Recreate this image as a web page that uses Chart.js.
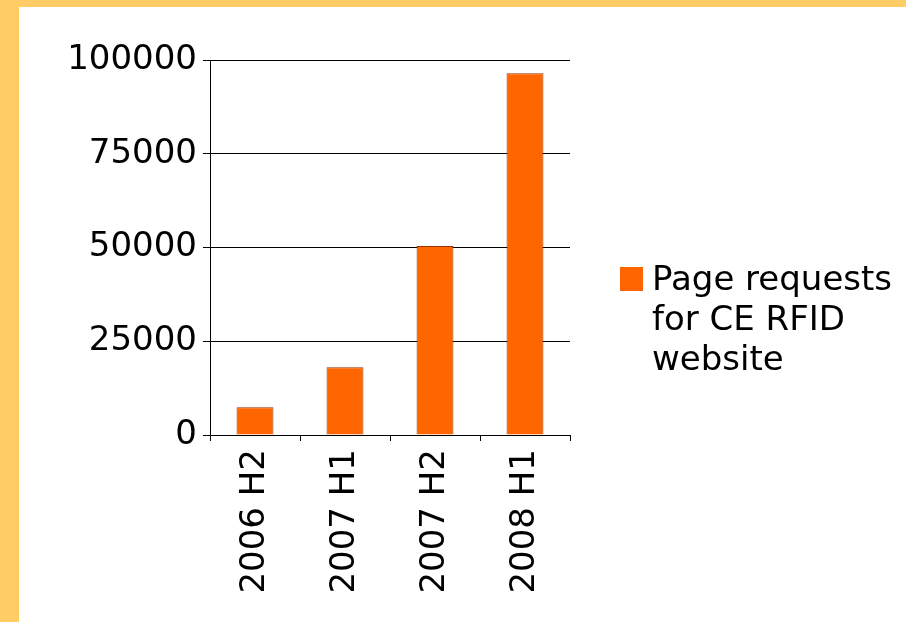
<!DOCTYPE html>
<html>
<head>
<meta charset="utf-8">
<script src="https://cdn.jsdelivr.net/npm/chart.js@4"></script>
<style>
  html, body { margin: 0; padding: 0; }
  body { width: 906px; height: 622px; background: #FFCC66; position: relative; overflow: hidden; font-family: "DejaVu Sans", Verdana, sans-serif; }
  #panel { position: absolute; left: 19px; top: 7px; width: 887px; height: 615px; background: #fff; }
  #grafico { position: absolute; left: 0; top: 0; }
  #legenda { position: absolute; left: 601px; top: 260px; font-size: 34px; line-height: 40px; color: #000; }
  #legenda .caixa { position: absolute; left: 0; top: 0; width: 23px; height: 24px; background: #FF6600; }
  #legenda .texto { position: absolute; left: 32px; top: -9px; white-space: nowrap; }
</style>
</head>
<body>
<div id="panel">
  <canvas id="grafico" width="887" height="615"></canvas>
  <div id="legenda"><div class="caixa"></div><div class="texto" id="legendaTexto"></div></div>
</div>
<script>
const periodos = ['2006 H2', '2007 H1', '2007 H2', '2008 H1'];
const requisicoes = [7400, 18100, 50400, 96500];
const nomeSerie = ['Page requests', 'for CE RFID', 'website'];
const escalaY = { min: 0, max: 100000, passo: 25000 };

document.getElementById('legendaTexto').innerHTML = nomeSerie.join('<br>');

const fonte = { family: '"DejaVu Sans", Verdana, sans-serif', size: 34 };

const ctx = document.getElementById('grafico').getContext('2d');
new Chart(ctx, {
    type: 'bar',
    data: {
        labels: periodos,
        datasets: [{
            label: nomeSerie.join(' '),
            data: requisicoes,
            backgroundColor: '#FF6600',
            borderColor: '#993300',
            borderWidth: 1,
            barPercentage: 0.41,
            categoryPercentage: 1
        }]
    },
    options: {
        responsive: false,
        animation: false,
        layout: { padding: { top: 53, right: 336, left: 0, bottom: 0 } },
        plugins: { legend: { display: false }, tooltip: { enabled: false } },
        scales: {
            y: {
                min: escalaY.min,
                max: escalaY.max,
                ticks: { stepSize: escalaY.passo, color: '#000', font: fonte, padding: 6, callback: v => String(v) },
                grid: { color: '#000', lineWidth: 1, tickLength: 7 },
                border: { display: true, color: '#000', width: 1 },
                afterFit: s => { s.width = 191; }
            },
            x: {
                offset: true,
                ticks: { color: '#000', font: fonte, maxRotation: 90, minRotation: 90, autoSkip: false, padding: 8 },
                grid: { display: true, drawOnChartArea: false, color: '#000', tickLength: 6, offset: true },
                border: { display: true, color: '#000', width: 1 },
                afterFit: s => { s.height = 187; }
            }
        }
    }
});
</script>
</body>
</html>
